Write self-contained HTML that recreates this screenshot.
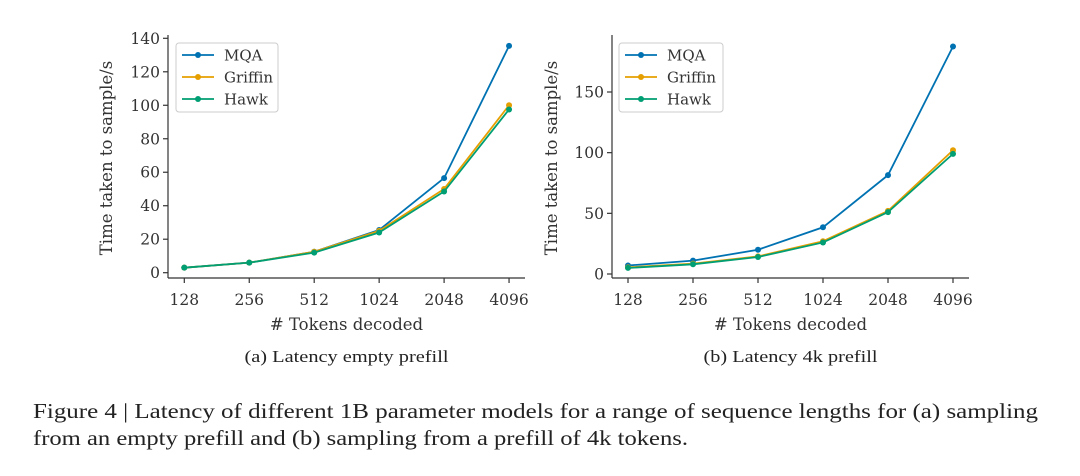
<!DOCTYPE html>
<html><head><meta charset="utf-8"><style>
html,body{margin:0;padding:0;background:#fff;}
svg{display:block;font-family:"DejaVu Serif",serif;}
</style></head><body>
<svg id="fig" width="1080" height="476" viewBox="0 0 1080 476">
<g id="left"></g>
<g id="right"></g>
<text x="33" y="418" font-size="21" fill="#222" font-family="Liberation Serif, serif" textLength="1005" lengthAdjust="spacingAndGlyphs">Figure 4 | Latency of different 1B parameter models for a range of sequence lengths for (a) sampling</text>
<text x="33" y="445" font-size="21" fill="#222" font-family="Liberation Serif, serif" textLength="655" lengthAdjust="spacingAndGlyphs">from an empty prefill and (b) sampling from a prefill of 4k tokens.</text>
</svg>
<script>
const categories = ["128","256","512","1024","2048","4096"];
const seriesNames = ["MQA","Griffin","Hawk"];
const leftMQA = [3,6,12.5,25.5,56.5,135.5];
const leftGriffin = [3,6,12.5,25,50,100];
const leftHawk = [3,6,12,24,48.5,97.5];
const rightMQA = [7,11,20,38.5,81.5,187.5];
const rightGriffin = [5.5,8.5,14.5,27,52,102];
const rightHawk = [5,8,14,26,51,99];
const leftTicks = [0,20,40,60,80,100,120,140];
const rightTicks = [0,50,100,150];
const colors = ["#0072b2","#e69f00","#009e73"];
const NS="http://www.w3.org/2000/svg";
function mk(parent,tag,attrs,text){const e=document.createElementNS(NS,tag);for(const k in attrs)e.setAttribute(k,attrs[k]);if(text!==undefined)e.textContent=text;parent.appendChild(e);return e;}
function draw(g,cfg){
  const xs=i=>cfg.x0+i*cfg.xstep;
  const ys=v=>cfg.y0-(v-0)*cfg.yscale;
  let s=mk(g,'line',{x1:cfg.sx,y1:35,x2:cfg.sx,y2:cfg.ax,stroke:'#333','stroke-width':1.2});
  
  
  s=mk(g,'line',{x1:cfg.sx,y1:cfg.ax,x2:cfg.sx2,y2:cfg.ax,stroke:'#333','stroke-width':1.2});
  
  
  cfg.ticks.forEach(t=>{
    const y=ys(t);
    mk(g,'line',{x1:cfg.sx-5,y1:y,x2:cfg.sx,y2:y,stroke:'#333','stroke-width':1.2});
    const l=mk(g,'text',{x:cfg.sx-8,y:y+5.5,'font-size':15.5,'text-anchor':'end',fill:'#333'},String(t));
    
    
  });
  categories.forEach((c,i)=>{
    const x=xs(i);
    mk(g,'line',{x1:x,y1:cfg.ax,x2:x,y2:cfg.ax+5,stroke:'#333','stroke-width':1.2});
    const l=mk(g,'text',{x:x,y:cfg.ax+27,'font-size':15.5,'text-anchor':'middle',fill:'#333'},c);
    
    
  });
  let t=mk(g,'text',{x:(cfg.sx+cfg.sx2)/2,y:330,'font-size':16.5,'text-anchor':'middle',fill:'#333'},'# Tokens decoded');
  
  
  t=mk(g,'text',{x:0,y:0,'font-size':16.5,'text-anchor':'middle',fill:'#333',transform:`translate(${cfg.ylx},158) rotate(-90)`},'Time taken to sample/s');
  
  
  t=mk(g,'text',{x:(cfg.sx+cfg.sx2)/2,y:362,'font-size':17,'text-anchor':'middle',fill:'#222','font-family':'Liberation Serif, serif',textLength:cfg.capw,lengthAdjust:'spacingAndGlyphs'},cfg.caption);
  
  
  cfg.series.forEach((arr,si)=>{
    const pts=arr.map((v,i)=>xs(i)+','+ys(v)).join(' ');
    const p=mk(g,'polyline',{points:pts,fill:'none',stroke:colors[si],'stroke-width':1.8});
    
    
    arr.forEach((v,i)=>{
      const m=mk(g,'circle',{cx:xs(i),cy:ys(v),r:3,fill:colors[si]});
      
      
    });
  });
  const lg=mk(g,'g',{});
  
  
  mk(lg,'rect',{x:cfg.lx,y:43,width:cfg.lw,height:69,rx:3,fill:'#fff',stroke:'#ccc','stroke-width':1});
  seriesNames.forEach((n,si)=>{
    const y=55+si*22;
    const e=mk(lg,'g',{});
    
    
    mk(e,'line',{x1:cfg.lx+6,y1:y,x2:cfg.lx+38,y2:y,stroke:colors[si],'stroke-width':1.8});
    mk(e,'circle',{cx:cfg.lx+22,cy:y,r:3,fill:colors[si]});
    mk(e,'text',{x:cfg.lx+48,y:y+5.5,'font-size':15,fill:'#333'},n);
  });
}
draw(document.getElementById('left'),{sx:168,sx2:525,ax:278,x0:184.3,xstep:64.95,y0:272.7,yscale:(272.7-38.3)/140,ticks:leftTicks,ylx:112,lx:176,lw:102,capw:204,caption:'(a)  Latency empty prefill',series:[leftMQA,leftGriffin,leftHawk]});
draw(document.getElementById('right'),{sx:612,sx2:969,ax:278,x0:628,xstep:65,y0:274,yscale:(274-92)/150,ticks:rightTicks,ylx:557,lx:619,lw:104,capw:174,caption:'(b)  Latency 4k prefill',series:[rightMQA,rightGriffin,rightHawk]});
</script>
</body></html>
